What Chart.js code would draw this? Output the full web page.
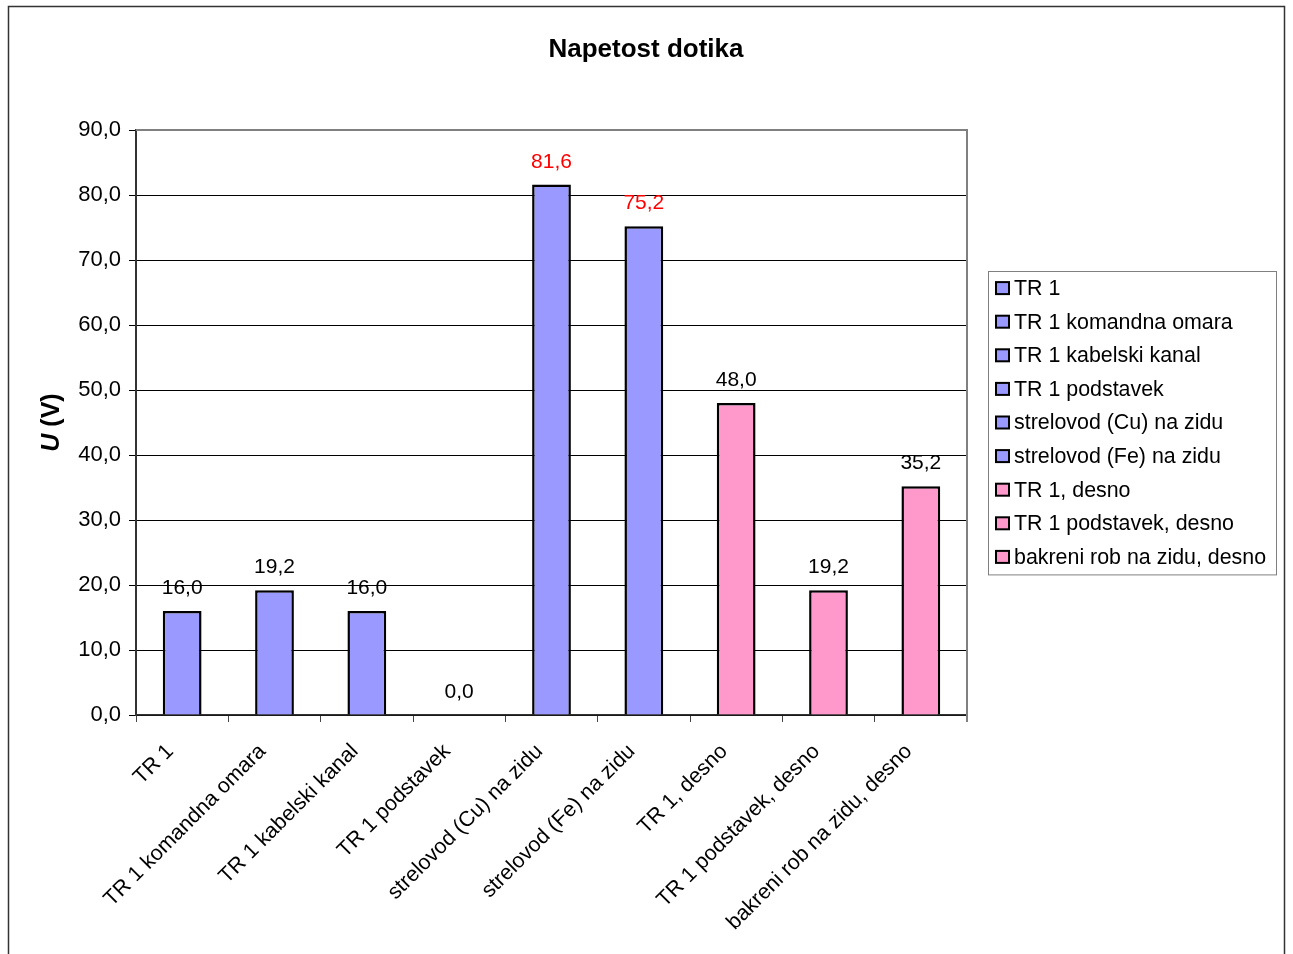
<!DOCTYPE html>
<html>
<head>
<meta charset="utf-8">
<title>Napetost dotika</title>
<script src="https://cdn.jsdelivr.net/npm/chart.js@4/dist/chart.umd.min.js"></script>
<style>
  html, body { margin: 0; padding: 0; background: #fff; }
  #wrap { width: 1293px; height: 954px; position: relative; }
</style>
</head>
<body>
<div id="wrap"><canvas id="c" width="1293" height="954"></canvas></div>
<script>
// Measurement points
const categories = [
  'TR 1',
  'TR 1 komandna omara',
  'TR 1 kabelski kanal',
  'TR 1 podstavek',
  'strelovod (Cu) na zidu',
  'strelovod (Fe) na zidu',
  'TR 1, desno',
  'TR 1 podstavek, desno',
  'bakreni rob na zidu, desno'
];
// Touch voltage U in volts
const voltages = [16.0, 19.2, 16.0, 0.0, 81.6, 75.2, 48.0, 19.2, 35.2];
// Left side (blue) vs. right side (pink)
const groups = ['L', 'L', 'L', 'L', 'L', 'L', 'R', 'R', 'R'];
// Values printed in red
const highlighted = [false, false, false, false, true, true, false, false, false];
const yTicks = [0, 10, 20, 30, 40, 50, 60, 70, 80, 90];

const chartTitle = 'Napetost dotika';
const groupColors = { L: '#9999FF', R: '#FF99CC' };
const FONT = '"Liberation Sans", Arial, Helvetica, sans-serif';

const fmt = v => v.toFixed(1).replace('.', ',');

const frame = {
  id: 'frame',
  beforeDraw(chart) {
    const ctx = chart.ctx;
    ctx.save();
    ctx.fillStyle = '#fff';
    ctx.fillRect(0, 0, chart.width, chart.height);
    ctx.strokeStyle = '#333';
    ctx.lineWidth = 1.5;
    ctx.strokeRect(8.5, 6.5, chart.width - 17, chart.height + 20);
    ctx.restore();
  },
  afterDraw(chart) {
    const ctx = chart.ctx;
    const a = chart.chartArea;
    ctx.save();
    // plot area top & right edges
    ctx.strokeStyle = '#808080';
    ctx.lineWidth = 2;
    ctx.beginPath();
    ctx.moveTo(a.left, a.top);
    ctx.lineTo(a.right, a.top);
    ctx.lineTo(a.right, a.bottom + 7);
    ctx.stroke();

    // title
    ctx.fillStyle = '#000';
    ctx.font = 'bold 26px ' + FONT;
    ctx.textAlign = 'center';
    ctx.textBaseline = 'middle';
    ctx.fillText(chartTitle, (8 + chart.width - 9) / 2, 50);

    // y-axis title: italic U, upright (V)
    ctx.save();
    ctx.translate(52, (a.top + a.bottom) / 2);
    ctx.rotate(-Math.PI / 2);
    ctx.textBaseline = 'middle';
    ctx.textAlign = 'left';
    const p1 = 'U', p2 = ' (V)';
    ctx.font = 'italic bold 25px ' + FONT;
    const w1 = ctx.measureText(p1).width;
    ctx.font = 'bold 25px ' + FONT;
    const w2 = ctx.measureText(p2).width;
    const x0 = -(w1 + w2) / 2;
    ctx.font = 'italic bold 25px ' + FONT;
    ctx.fillText(p1, x0, 0);
    ctx.font = 'bold 25px ' + FONT;
    ctx.fillText(p2, x0 + w1, 0);
    ctx.restore();

    // legend
    const rowH = 33.6;
    const boxW = 288;
    const boxH = categories.length * rowH + 1;
    const bx = a.right + 21;
    const by = (a.top + a.bottom) / 2 - boxH / 2;
    ctx.strokeStyle = '#808080';
    ctx.lineWidth = 1;
    ctx.strokeRect(Math.round(bx) + 0.5, Math.round(by) + 0.5, boxW, boxH);
    ctx.font = '21.4px ' + FONT;
    ctx.textAlign = 'left';
    ctx.textBaseline = 'middle';
    categories.forEach((name, i) => {
      const cy = by + rowH * (i + 0.5) + 0.5;
      ctx.fillStyle = groupColors[groups[i]];
      ctx.fillRect(bx + 8, cy - 6, 13, 12);
      ctx.strokeStyle = '#000';
      ctx.lineWidth = 2;
      ctx.strokeRect(bx + 8, cy - 6, 13, 12);
      ctx.fillStyle = '#000';
      ctx.fillText(name, bx + 26, cy + 1);
    });
    ctx.restore();
  }
};

const valueLabels = {
  id: 'valueLabels',
  afterDatasetsDraw(chart) {
    const ctx = chart.ctx;
    const meta = chart.getDatasetMeta(0);
    ctx.save();
    ctx.font = '21px ' + FONT;
    ctx.textAlign = 'center';
    ctx.textBaseline = 'bottom';
    meta.data.forEach((bar, i) => {
      ctx.fillStyle = highlighted[i] ? '#FF0000' : '#000';
      ctx.fillText(fmt(voltages[i]), bar.x, bar.y - 12);
    });
    ctx.restore();
  }
};

new Chart(document.getElementById('c'), {
  type: 'bar',
  data: {
    labels: categories,
    datasets: [{
      data: voltages,
      backgroundColor: groups.map(g => groupColors[g]),
      borderColor: '#000',
      borderWidth: 2.5,
      borderSkipped: 'bottom',
      barPercentage: 0.42,
      categoryPercentage: 1.0
    }]
  },
  options: {
    responsive: false,
    animation: false,
    layout: { padding: { top: 130, right: 326, left: 0, bottom: 0 } },
    plugins: {
      legend: { display: false },
      title: { display: false },
      tooltip: { enabled: false }
    },
    scales: {
      x: {
        afterFit(scale) { scale.height = 239; },
        grid: {
          offset: true,
          drawOnChartArea: false,
          drawTicks: true,
          tickLength: 7,
          color: '#444',
          lineWidth: 1
        },
        border: { display: true, color: '#333', width: 1.5 },
        ticks: {
          autoSkip: false,
          minRotation: 45,
          maxRotation: 45,
          padding: 17,
          labelOffset: -12,
          color: '#000',
          font: { family: FONT, size: 21.4 }
        }
      },
      y: {
        min: 0,
        max: 90,
        afterFit(scale) { scale.width = 136; },
        afterBuildTicks(scale) { scale.ticks = yTicks.map(v => ({ value: v })); },
        grid: {
          color: ctx => (ctx.tick && ctx.tick.value === 90) ? '#808080' : '#000',
          tickColor: '#000',
          tickLength: 7,
          lineWidth: 1
        },
        border: { display: true, color: '#333', width: 2 },
        ticks: {
          padding: 8,
          color: '#000',
          font: { family: FONT, size: 22 },
          callback: v => fmt(v)
        }
      }
    }
  },
  plugins: [frame, valueLabels]
});
</script>
</body>
</html>
